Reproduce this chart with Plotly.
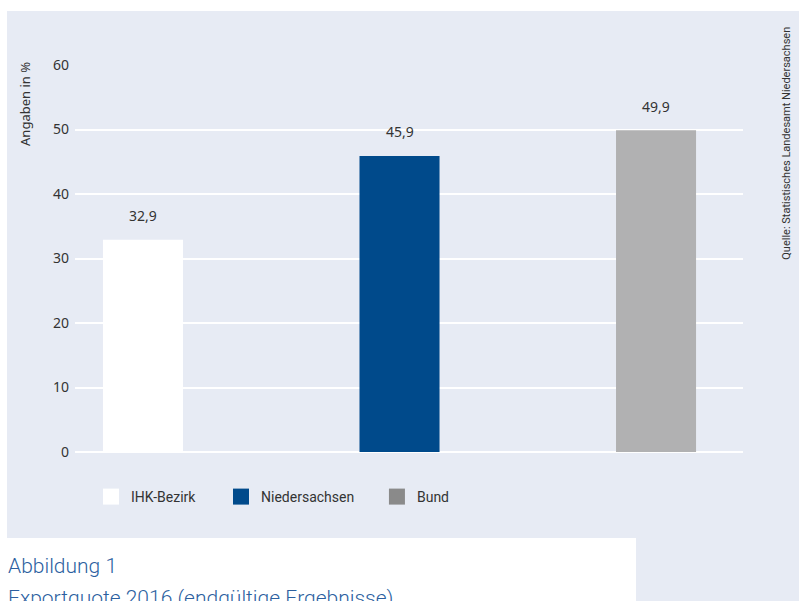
import plotly.graph_objects as go

categories = ["IHK-Bezirk", "Niedersachsen", "Bund"]
values = [32.9, 45.9, 49.9]
value_labels = ["32,9", "45,9", "49,9"]
bar_colors = ["#ffffff", "#004a8b", "#b1b1b2"]
legend_colors = ["#ffffff", "#004a8b", "#8a8a8a"]
legend_x = [0.024, 0.2186, 0.452]
y_ticks = [0, 10, 20, 30, 40, 50, 60]

PANEL = "#e7ebf4"
TXT = "#333333"
BLUE_T = "#2c5f9f"
FONT = "Noto Sans, Open Sans, sans-serif"
NARROW = "Liberation Sans Narrow, Roboto, sans-serif"

fig = go.Figure()
fig.add_trace(go.Bar(
    x=categories, y=values, marker=dict(color=bar_colors, line=dict(width=0)),
    width=0.312, showlegend=False, hoverinfo="skip",
))
legend_ids = ["legend", "legend2", "legend3"]
for name, col, lid in zip(categories, legend_colors, legend_ids):
    fig.add_trace(go.Scatter(
        x=[None], y=[None], mode="markers", name=name, legend=lid,
        marker=dict(symbol="square", size=16, color=col, line=dict(width=0)),
    ))

for c, v, t in zip(categories, values, value_labels):
    fig.add_annotation(x=c, y=v, text=t, showarrow=False, yanchor="middle",
                       yshift=24, font=dict(family=FONT, size=14, color=TXT))

fig.add_annotation(xref="paper", yref="paper", x=-0.0749, y=1.013, text="Angaben in %",
                   textangle=-90, showarrow=False, xanchor="center", yanchor="top",
                   font=dict(family=FONT, size=13, color=TXT))
fig.add_annotation(xref="paper", yref="paper", x=1.066, y=1.103,
                   text="Quelle: Statistisches Landesamt Niedersachsen",
                   textangle=-90, showarrow=False, xanchor="center", yanchor="top",
                   font=dict(family=NARROW, size=11, color=TXT))
fig.add_annotation(xref="paper", yref="paper", x=-0.104, y=-(566 - 452) / 387,
                   text="Abbildung 1", showarrow=False, xanchor="left", yanchor="middle",
                   font=dict(family=NARROW, size=21, color=BLUE_T, weight=300))
fig.add_annotation(xref="paper", yref="paper", x=-0.104, y=-(598 - 452) / 387,
                   text="Exportquote 2016 (endgültige Ergebnisse)", showarrow=False,
                   xanchor="left", yanchor="middle",
                   font=dict(family=NARROW, size=21, color=BLUE_T, weight=300))

fig.add_shape(type="rect", xref="paper", yref="paper", x0=-0.1018, x1=1.2, y0=-0.6, y1=1.1395,
              fillcolor=PANEL, line=dict(width=0), layer="below")
fig.add_shape(type="rect", xref="paper", yref="paper", x0=-0.2, x1=(636 - 75) / 668,
              y0=-0.6, y1=-(538 - 452) / 387,
              fillcolor="#ffffff", line=dict(width=0), layer="below")

leg_common = dict(orientation="h", xanchor="left", y=-(497 - 452) / 387,
                  yanchor="middle", bgcolor="rgba(0,0,0,0)", borderwidth=0,
                  font=dict(family=NARROW, size=14, color=TXT))

fig.update_layout(
    width=799, height=601,
    margin=dict(l=75, r=56, t=65, b=149),
    paper_bgcolor="#ffffff", plot_bgcolor=PANEL,
    font=dict(family=FONT, size=13, color=TXT),
    xaxis=dict(range=[-0.265, 2.339], showticklabels=False, showgrid=False,
               zeroline=False, showline=False, fixedrange=True),
    yaxis=dict(range=[0, 60], tickvals=y_ticks, ticktext=[str(t) for t in y_ticks],
               showgrid=True, gridcolor="#ffffff", gridwidth=2,
               zeroline=True, zerolinecolor="#ffffff", zerolinewidth=2,
               showline=False, ticks="", ticklabelstandoff=5,
               tickfont=dict(family=FONT, size=14, color=TXT)),
    legend=dict(x=legend_x[0], **leg_common),
    legend2=dict(x=legend_x[1], **leg_common),
    legend3=dict(x=legend_x[2], **leg_common),
    showlegend=True,
)

fig.write_html("out.html")
